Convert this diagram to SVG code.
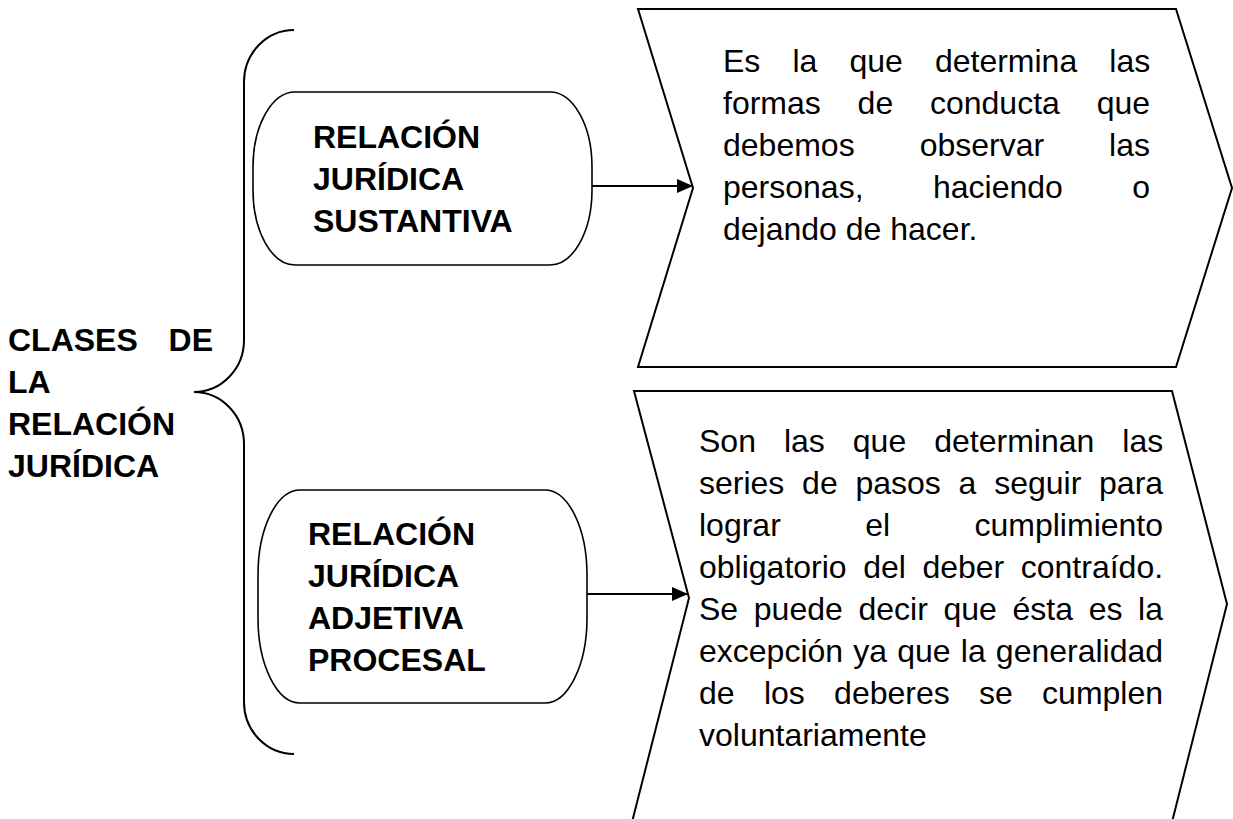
<svg xmlns="http://www.w3.org/2000/svg" width="1233" height="819" viewBox="0 0 1233 819">
  <style>
    .b { font-family: "Liberation Sans", Arial, sans-serif; font-size: 32px; font-weight: bold; fill: #000; }
    .r { font-family: "Liberation Sans", Arial, sans-serif; font-size: 32px; fill: #000; }
    .shape { fill: #fff; stroke: #000; stroke-width: 2; }
    .stad { fill: #fff; stroke: #000; stroke-width: 1.6; }
    .conn { stroke: #000; stroke-width: 2; fill: none; }
  </style>
  <defs>
    <marker id="ah" markerUnits="userSpaceOnUse" markerWidth="16" markerHeight="14" refX="16" refY="7" orient="auto">
      <path d="M0,0 L16,7 L0,14 z" fill="#000"/>
    </marker>
  </defs>
  <rect width="1233" height="819" fill="#fff"/>

  <g id="brace">
    <path class="conn" d="M294,30 A50,52 0 0 0 244,82 L244,340 A50,52 0 0 1 194,392 A50,52 0 0 1 244,444 L244,702 A50,52 0 0 0 294,754"/>
  </g>

  <g id="root-label">
    <text class="b" x="8" y="351" word-spacing="21.9">CLASES DE</text>
    <text class="b" x="8" y="393">LA</text>
    <text class="b" x="8" y="435">RELACIÓN</text>
    <text class="b" x="8" y="477">JURÍDICA</text>
  </g>

  <g id="node-sustantiva">
    <rect class="stad" x="253" y="92" width="339" height="173" rx="42" ry="75"/>
    <text class="b" x="313" y="148">RELACIÓN</text>
    <text class="b" x="313" y="190">JURÍDICA</text>
    <text class="b" x="313" y="232">SUSTANTIVA</text>
  </g>

  <g id="node-adjetiva">
    <rect class="stad" x="258" y="490" width="329" height="213" rx="42" ry="85"/>
    <text class="b" x="308" y="545">RELACIÓN</text>
    <text class="b" x="308" y="587">JURÍDICA</text>
    <text class="b" x="308" y="629">ADJETIVA</text>
    <text class="b" x="308" y="671">PROCESAL</text>
  </g>

  <g id="def-sustantiva">
    <polygon class="shape" points="638,9 1176,9 1232,188 1176,367 638,367 693,188"/>
    <text class="r" x="723" y="72" word-spacing="23.2">Es la que determina las</text>
    <text class="r" x="723" y="114" word-spacing="27.9">formas de conducta que</text>
    <text class="r" x="723" y="156" word-spacing="56.1">debemos observar las</text>
    <text class="r" x="723" y="198" word-spacing="60.5">personas, haciendo o</text>
    <text class="r" x="723" y="240">dejando de hacer.</text>
  </g>

  <g id="def-adjetiva">
    <polygon class="shape" points="634,391 1172,391 1227,604 1170,830 630,830 689,598"/>
    <text class="r" x="699" y="452" word-spacing="19.1">Son las que determinan las</text>
    <text class="r" x="699" y="494" word-spacing="8.86">series de pasos a seguir para</text>
    <text class="r" x="699" y="536" word-spacing="75.5">lograr el cumplimiento</text>
    <text class="r" x="699" y="578" word-spacing="7.63">obligatorio del deber contraído.</text>
    <text class="r" x="699" y="620" word-spacing="6.77">Se puede decir que ésta es la</text>
    <text class="r" x="699" y="662" word-spacing="1.28">excepción ya que la generalidad</text>
    <text class="r" x="699" y="704" word-spacing="20.4">de los deberes se cumplen</text>
    <text class="r" x="699" y="746">voluntariamente</text>
  </g>

  <g id="connectors">
    <line class="conn" x1="592" y1="186" x2="693" y2="186" marker-end="url(#ah)"/>
    <line class="conn" x1="587" y1="594" x2="688" y2="594" marker-end="url(#ah)"/>
  </g>
</svg>
